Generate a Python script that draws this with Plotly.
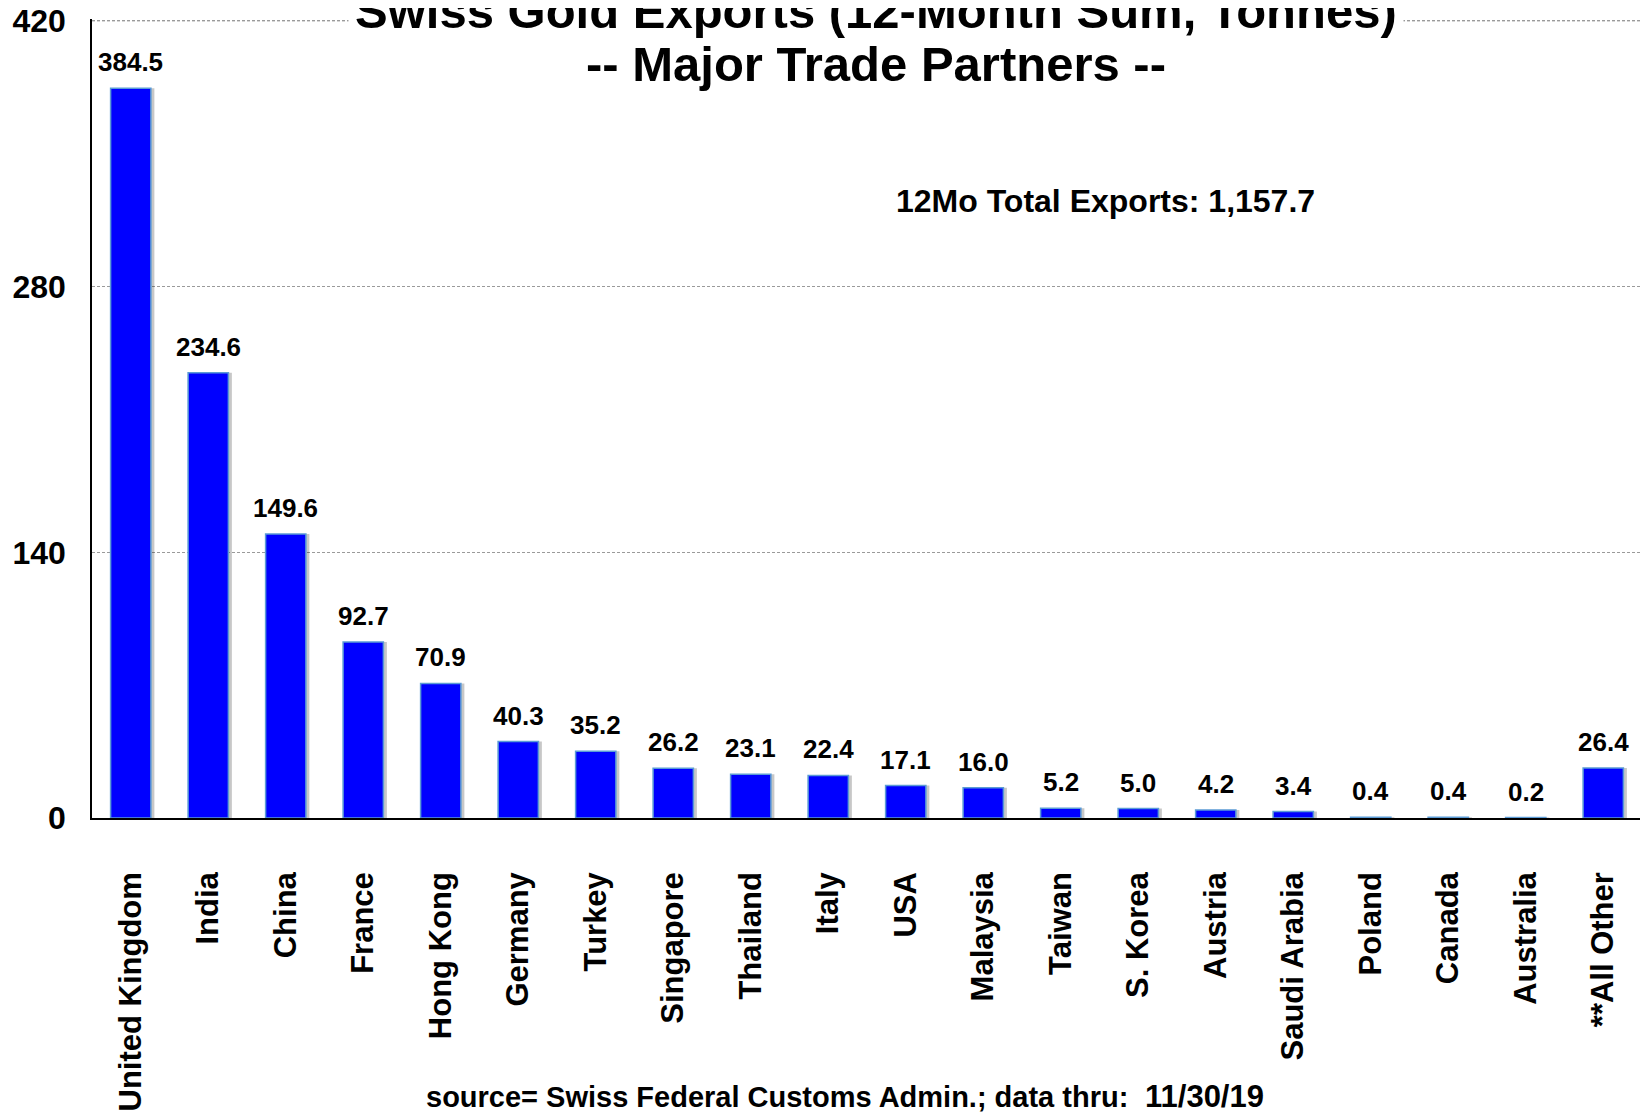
import plotly.graph_objects as go

# ── Data: Swiss gold exports, 12-month sum (tonnes) ─────────────────────────
countries = [
    "United Kingdom", "India", "China", "France", "Hong Kong", "Germany",
    "Turkey", "Singapore", "Thailand", "Italy", "USA", "Malaysia", "Taiwan",
    "S. Korea", "Austria", "Saudi Arabia", "Poland", "Canada", "Australia",
    "**All Other",
]
tonnes = [
    384.5, 234.6, 149.6, 92.7, 70.9, 40.3, 35.2, 26.2, 23.1, 22.4,
    17.1, 16.0, 5.2, 5.0, 4.2, 3.4, 0.4, 0.4, 0.2, 26.4,
]
y_ticks = [0, 140, 280, 420]

FONT = "Liberation Sans, Arial, sans-serif"
BAR_W = 0.52

fig = go.Figure()

# soft drop shadow behind each bar
fig.add_trace(go.Bar(
    x=countries, y=tonnes,
    width=BAR_W, offset=-BAR_W / 2 + 0.045,
    marker=dict(color="rgba(0,0,0,0.22)", line=dict(width=0)),
    hoverinfo="skip",
))

fig.add_trace(go.Bar(
    x=countries, y=tonnes,
    width=BAR_W, offset=-BAR_W / 2,
    marker=dict(color="#0000FF", line=dict(color="#5B9BD5", width=1.5)),
    hovertemplate="<b>%{x}</b><br>%{y:.1f} t<extra></extra>",
))

# value labels above bars
for c, v in zip(countries, tonnes):
    fig.add_annotation(
        x=c, y=v, text=f"{v:.1f}", showarrow=False,
        yanchor="middle", yshift=26,
        font=dict(size=26, color="black", family=FONT, weight="bold"),
    )

# top gridline drawn explicitly (plotly drops grid lines at the plot edge)
fig.add_shape(
    type="line", xref="paper", yref="y", x0=0, x1=1,
    y0=y_ticks[-1], y1=y_ticks[-1], layer="below",
    line=dict(color="#9a9a9a", width=1, dash="3px,2px"),
)

# title lines on white boxes so they break the top gridline
fig.add_annotation(
    text="Swiss Gold Exports (12-Month Sum, Tonnes)",
    xref="paper", yref="paper", x=0.506, y=1.010, yanchor="middle",
    showarrow=False, bgcolor="white", borderpad=6,
    font=dict(size=49, color="black", family=FONT, weight="bold"),
)
fig.add_annotation(
    text="-- Major Trade Partners --",
    xref="paper", yref="paper", x=0.506, y=0.9435, yanchor="middle",
    showarrow=False,
    font=dict(size=49, color="black", family=FONT, weight="bold"),
)

fig.add_annotation(
    text="12Mo Total Exports: 1,157.7",
    xref="paper", yref="paper", x=0.654, y=0.797,
    showarrow=False,
    font=dict(size=32, color="black", family=FONT, weight="bold"),
)

fig.add_annotation(
    text="source= Swiss Federal Customs Admin.; data thru: "
         "<span style='font-size:31px'> 11/30/19</span>",
    xref="paper", yref="paper", x=0.486, y=-0.349, yanchor="middle",
    showarrow=False,
    font=dict(size=29, color="black", family=FONT, weight="bold"),
)

fig.update_layout(
    barmode="overlay",
    xaxis=dict(
        tickangle=-90,
        tickfont=dict(size=31, color="black", family=FONT, weight="bold"),
        showline=True, linecolor="black", linewidth=1.5,
        ticks="", ticklabelstandoff=40, automargin=False,
    ),
    yaxis=dict(
        # a hair above 420 so the top label is not dropped
        range=[0, 421],
        tickvals=y_ticks,
        tickfont=dict(size=32, color="black", family=FONT, weight="bold"),
        ticklabeloverflow="allow",
        showline=True, linecolor="black", linewidth=1.5,
        showgrid=True, gridcolor="#9a9a9a", griddash="3px,2px", gridwidth=1,
        zeroline=False, ticks="", ticklabelstandoff=18, automargin=False,
    ),
    showlegend=False,
    plot_bgcolor="white",
    paper_bgcolor="white",
    # page body adds an 8px offset, so the figure is 8px smaller
    margin=dict(l=84, r=6, t=11, b=297),
    width=1640,
    height=1107,
)

fig.write_html("out.html")
